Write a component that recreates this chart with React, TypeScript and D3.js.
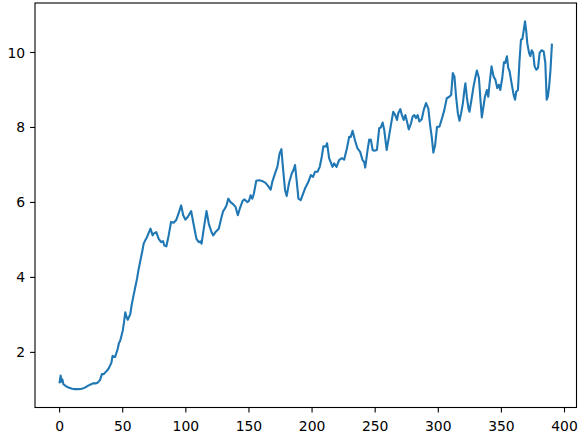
import React from 'react';
import * as d3 from 'd3';

// values (step, value)
const steps = [
  0, 0.8, 1.5, 2.2, 3, 5, 7, 10, 12, 15, 17.6, 20, 23, 25, 27, 28.5, 30, 32, 33.5, 35,
  36, 38, 39.3, 41, 42, 43, 44, 46, 47, 48, 50, 51, 52, 53, 54, 56, 57, 58.6, 60, 61.3,
  62.5, 64, 65.5, 66.6, 68, 69.3, 71, 72, 73.7, 74.5, 76.6, 78.5, 80.4, 81.9, 83, 84.6, 86.4, 88.3, 90.4, 92.5,
  94.4, 96.3, 97.9, 99.7, 101.5, 104.2, 106.3, 108.4, 110.3, 111.6, 112.5, 114.2, 116.4, 118.2, 120.3, 121.7, 123.5, 126.1, 128, 129.6,
  130.3, 132.2, 133.6, 135.4, 137.6, 139.4, 141.2, 142.8, 145, 146.5, 148.7, 150, 151.3, 152.7, 153.9, 155.8, 157.9, 160.6, 163.2, 165.4,
  167.2, 168.5, 170.6, 172.5, 174.3, 175.7, 177, 178.6, 179.9, 181.7, 183.9, 185.2, 186.5, 187.9, 189.2, 191, 192.4, 194.4, 197.1, 199,
  200.8, 202.4, 204.3, 206.1, 207.7, 209, 210.9, 211.9, 213.5, 214.9, 216.2, 217.5, 219.4, 221.4, 223.6, 225.4, 226.8, 227.6, 229.4, 230.7,
  232.1, 233.9, 236, 238.1, 240, 241.3, 242.1, 244, 245.3, 246.6, 248, 249.3, 251.4, 253.2, 254.5, 255.9, 257.2, 259.1, 260.7, 262.5,
  264.3, 265.9, 267.3, 268.3, 269.9, 271.2, 272.6, 273.9, 275.2, 276.6, 278.4, 279.7, 281, 282.4, 283.7, 285, 286.9, 288.5, 290.3, 292.1,
  293.5, 294.8, 296.1, 297.5, 299, 300.9, 303, 304.8, 306.7, 308.8, 310.2, 311.5, 312.8, 314.1, 315.5, 316.8, 318.1, 319.5, 320.7, 321.5,
  322.6, 323.9, 324.7, 326.3, 327.9, 329.5, 330.6, 332.2, 333.4, 334.5, 335.8, 336.9, 338.5, 339.6, 340.6, 342.2, 343.8, 345.3, 346.7, 348,
  349.1, 350.7, 352, 353, 354.4, 355.4, 356.5, 357.8, 359.7, 360.8, 361.8, 363.1, 364.4, 365.5, 366.6, 367.6, 368.7, 369.7, 370.5, 371.9,
  372.9, 374, 375.1, 376.3, 377.7, 379, 380.3, 381.9, 383.5, 384.8, 385.9, 386.8, 387.8, 388.9, 390,
];

const values = [
  1.2, 1.38, 1.22, 1.28, 1.15, 1.1, 1.06, 1.03, 1.02, 1.02, 1.03, 1.06, 1.12, 1.15, 1.18, 1.17, 1.19, 1.26, 1.42, 1.42,
  1.46, 1.53, 1.6, 1.72, 1.91, 1.88, 1.88, 2.09, 2.25, 2.31, 2.58, 2.8, 3.07, 2.95, 2.87, 3.02, 3.25, 3.52, 3.75, 3.96,
  4.2, 4.45, 4.7, 4.9, 5.0, 5.08, 5.22, 5.3, 5.12, 5.17, 5.21, 5.03, 4.94, 4.97, 4.85, 4.83, 5.12, 5.48, 5.46, 5.54,
  5.72, 5.92, 5.66, 5.54, 5.61, 5.77, 5.39, 5.03, 4.94, 4.96, 4.9, 5.3, 5.77, 5.43, 5.21, 5.12, 5.21, 5.3, 5.57, 5.77,
  5.8, 5.92, 6.1, 6.01, 5.95, 5.88, 5.66, 5.84, 6.04, 6.08, 6.01, 6.04, 6.19, 6.1, 6.24, 6.58, 6.59, 6.57, 6.52, 6.43,
  6.34, 6.55, 6.77, 6.95, 7.31, 7.42, 6.91, 6.33, 6.17, 6.51, 6.77, 6.86, 7.0, 6.55, 6.1, 6.06, 6.19, 6.37, 6.55, 6.73,
  6.68, 6.82, 6.82, 6.95, 7.22, 7.5, 7.49, 7.58, 7.18, 7.06, 6.95, 7.04, 6.95, 7.13, 7.18, 7.14, 7.33, 7.44, 7.75, 7.75,
  7.91, 7.67, 7.44, 7.35, 7.13, 7.08, 6.93, 7.4, 7.68, 7.67, 7.4, 7.38, 7.4, 7.98, 8.0, 8.13, 7.93, 7.4, 7.71, 8.07,
  8.42, 8.33, 8.2, 8.38, 8.49, 8.33, 8.2, 8.33, 8.16, 7.95, 8.11, 8.29, 8.33, 8.25, 8.33, 8.16, 8.22, 8.47, 8.65, 8.51,
  8.07, 7.75, 7.33, 7.53, 8.02, 8.02, 8.25, 8.47, 8.78, 8.82, 8.87, 9.45, 9.36, 8.82, 8.38, 8.18, 8.38, 8.65, 9.0, 9.18,
  8.82, 8.51, 8.42, 8.74, 9.09, 9.36, 9.52, 9.32, 8.74, 8.27, 8.56, 8.81, 9.0, 8.82, 9.16, 9.63, 9.36, 9.27, 9.05, 9.14,
  9.0, 9.32, 9.74, 9.72, 9.9, 9.59, 9.5, 9.23, 8.87, 8.74, 8.96, 9.0, 9.81, 10.34, 10.36, 10.57, 10.83, 10.57, 10.25, 9.99,
  9.9, 10.06, 10.0, 9.63, 9.54, 9.59, 9.99, 10.06, 10.03, 9.72, 8.74, 8.82, 9.09, 9.54, 10.21,
];

const xTicks = [0, 50, 100, 150, 200, 250, 300, 350, 400];
const yTicks = [2, 4, 6, 8, 10];

const W = 578;
const H = 435;
const frame = { left: 35, right: 576.5, top: 3, bottom: 407.5 };
const font = '"DejaVu Sans", sans-serif';

export default function App() {
  const points: [number, number][] = steps.map((s, i) => [s, values[i]]);

  // matplotlib style 5% margins around the data
  const [x0, x1] = d3.extent(steps) as [number, number];
  const [y0, y1] = d3.extent(values) as [number, number];
  const xPad = (x1 - x0) * 0.05;
  const yPad = (y1 - y0) * 0.05;

  const x = d3.scaleLinear().domain([x0 - xPad, x1 + xPad]).range([frame.left, frame.right]);
  const y = d3.scaleLinear().domain([y0 - yPad, y1 + yPad]).range([frame.bottom, frame.top]);

  const line = d3.line<[number, number]>()
    .x(d => x(d[0]))
    .y(d => y(d[1]));

  return (
    <svg width={W} height={H} style={{ position: 'fixed', left: 0, top: 0, background: '#fff' }}>
      <rect x={0} y={0} width={W} height={H} fill="#fff" />
      <path d={line(points) || ''} fill="none" stroke="#1f77b4" strokeWidth={2.1} strokeLinejoin="round" strokeLinecap="square" />
      <rect
        x={frame.left}
        y={frame.top}
        width={frame.right - frame.left}
        height={frame.bottom - frame.top}
        fill="none"
        stroke="#000"
        strokeWidth={1.1}
      />
      {xTicks.map(t => (
        <g key={'x' + t} transform={`translate(${x(t)},${frame.bottom})`}>
          <line y1={0} y2={4.9} stroke="#000" strokeWidth={1.1} />
          <text y={23.5} textAnchor="middle" fontFamily={font} fontSize={13.9} fill="#000">{t}</text>
        </g>
      ))}
      {yTicks.map(t => (
        <g key={'y' + t} transform={`translate(${frame.left},${y(t)})`}>
          <line x1={0} x2={-4.9} stroke="#000" strokeWidth={1.1} />
          <text x={-9.8} dy="0.36em" textAnchor="end" fontFamily={font} fontSize={13.9} fill="#000">{t}</text>
        </g>
      ))}
    </svg>
  );
}
